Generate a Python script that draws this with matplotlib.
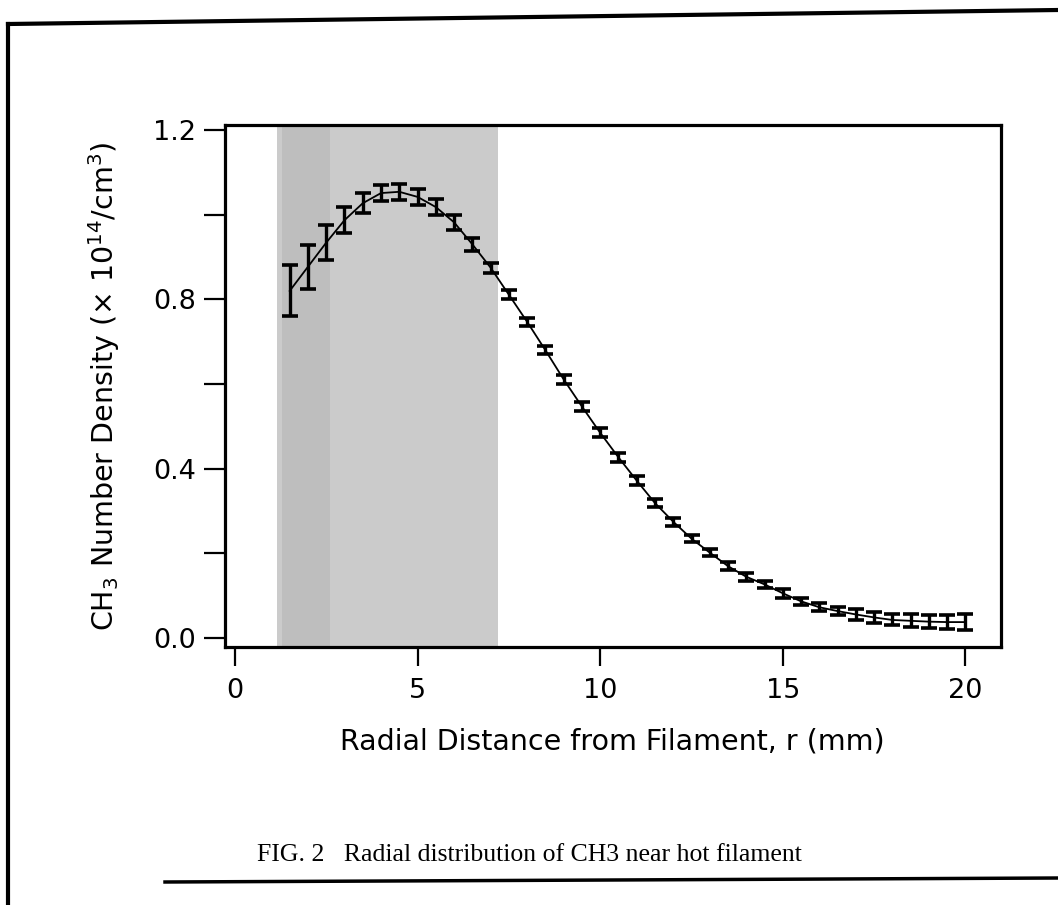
import matplotlib as mpl
mpl.use('Agg')
import matplotlib.pyplot as plt
from matplotlib.lines import Line2D
from matplotlib.ticker import MultipleLocator

plt.rcParams['font.family'] = ['DejaVu Sans']
plt.rcParams['mathtext.fontset'] = 'dejavusans'

# radial distance (mm)
r = [1.5, 2.0, 2.5, 3.0, 3.5, 4.0, 4.5, 5.0, 5.5, 6.0, 6.5, 7.0, 7.5,
     8.0, 8.5, 9.0, 9.5, 10.0, 10.5, 11.0, 11.5, 12.0, 12.5, 13.0,
     13.5, 14.0, 14.5, 15.0, 15.5, 16.0, 16.5, 17.0, 17.5, 18.0, 18.5,
     19.0, 19.5, 20.0]
# CH3 number density (x10^14 /cm^3)
dens = [0.82, 0.877, 0.934, 0.987, 1.027, 1.051, 1.054, 1.042, 1.018, 0.982,
        0.93, 0.875, 0.811, 0.747, 0.68, 0.611, 0.547, 0.485, 0.427, 0.372,
        0.319, 0.275, 0.235, 0.202, 0.17, 0.145, 0.127, 0.106, 0.087, 0.073,
        0.064, 0.056, 0.049, 0.043, 0.041, 0.039, 0.038, 0.038]
err = [0.06, 0.052, 0.042, 0.031, 0.023, 0.019, 0.019, 0.019, 0.019, 0.018,
       0.015, 0.012, 0.01, 0.01, 0.01, 0.01, 0.011, 0.011, 0.011, 0.011,
       0.009, 0.009, 0.009, 0.009, 0.01, 0.01, 0.008, 0.01, 0.009, 0.009,
       0.009, 0.012, 0.012, 0.013, 0.015, 0.016, 0.017, 0.019]

# shaded filament region (mm)
shade_lo, shade_hi = 1.15, 7.2

fig = plt.figure(figsize=(10.58, 9.05), dpi=100)
ax = fig.add_axes([0.2127, 0.285, 0.733, 0.577])

ax.axvspan(shade_lo, shade_hi, color='#cbcbcb', lw=0, zorder=0)
ax.axvspan(1.3, 2.6, color='#a8a8a8', alpha=0.35, lw=0, zorder=0)

ax.plot(r, dens, color='black', lw=1.3, zorder=2)
ax.errorbar(r, dens, yerr=err, fmt='none', ecolor='black', elinewidth=2.4,
            capsize=6, capthick=2.6, zorder=3)

ax.set_xlim(-0.27, 20.96)
ax.set_ylim(-0.021, 1.212)
ax.set_xticks([0, 5, 10, 15, 20])
ax.set_yticks([0.0, 0.4, 0.8, 1.2])
ax.set_yticklabels(['0.0', '0.4', '0.8', '1.2'])
ax.yaxis.set_minor_locator(MultipleLocator(0.2))

for s in ax.spines.values():
    s.set_linewidth(2.3)
ax.tick_params(axis='both', which='both', direction='out', length=14,
               width=1.6, labelsize=19.5)
ax.tick_params(axis='x', pad=8)
ax.tick_params(axis='y', which='both', pad=6, length=15)

ax.set_xlabel('Radial Distance from Filament, r (mm)', fontsize=20.5,
              labelpad=17)
ax.set_ylabel(r'CH$_3$ Number Density ($\times$ 10$^{14}$/cm$^3$)',
              fontsize=20.5, labelpad=22)

# page border of the scanned figure
fig.add_artist(Line2D([8 / 1058, 1.0], [1 - 24 / 905, 1 - 10 / 905],
                      color='black', lw=3, transform=fig.transFigure))
fig.add_artist(Line2D([8 / 1058, 8 / 1058], [1 - 24 / 905, 0.0],
                      color='black', lw=3, transform=fig.transFigure))
fig.add_artist(Line2D([165 / 1058, 1.0], [1 - 882 / 905, 1 - 878 / 905],
                      color='black', lw=2.5, transform=fig.transFigure))

fig.text(0.50, 1 - 855 / 905, 'FIG. 2   Radial distribution of CH3 near hot filament',
         ha='center', va='center', fontsize=18.5,
         family=['Liberation Serif', 'DejaVu Serif'])

fig.savefig('out.png', dpi=100)
